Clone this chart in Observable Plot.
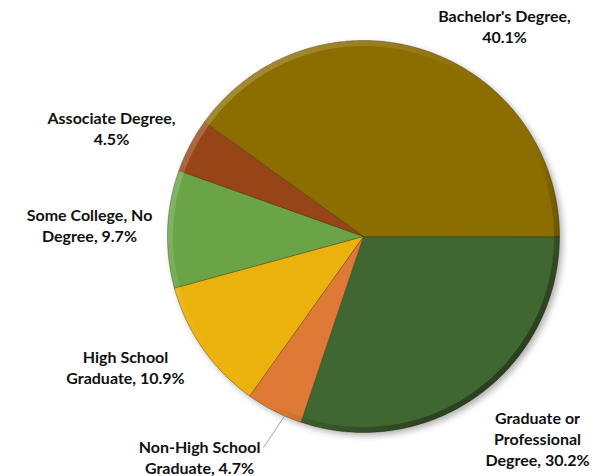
<!DOCTYPE html>
<html>
<head>
<meta charset="utf-8">
<script src="https://cdn.jsdelivr.net/npm/d3@7"></script>
<script src="https://cdn.jsdelivr.net/npm/@observablehq/plot@0.6"></script>
<style>
  html, body { margin: 0; padding: 0; background: #fff; }
  #chart { width: 602px; height: 476px; }
</style>
</head>
<body>
<div id="chart"></div>
<script>
// ---- data (clockwise from 3 o'clock) ----
const categories = [
  "Graduate or Professional Degree",
  "Non-High School Graduate",
  "High School Graduate",
  "Some College, No Degree",
  "Associate Degree",
  "Bachelor's Degree"
];
const values = [30.2, 4.7, 10.9, 9.7, 4.5, 40.1];
const labelLines = [
  ["Graduate or", "Professional", "Degree, 30.2%"],
  ["Non-High School", "Graduate, 4.7%"],
  ["High School", "Graduate, 10.9%"],
  ["Some College, No", "Degree, 9.7%"],
  ["Associate Degree,", "4.5%"],
  ["Bachelor's Degree,", "40.1%"]
];
const colors = ["#416630", "#DE7A35", "#EBB10A", "#6AA446", "#974414", "#8C6D00"];

// ---- layout ----
const W = 602, H = 476;
const cx = 363, cy = 236, R = 196;
// label centre (pixels) for each category, first line centre y
const labelPos = [
  [537, 418], [199, 447], [125, 357], [89, 215], [111, 118], [504, 16]
];
const lineGap = 21;

const toX = px => (px - cx) / R;
const toY = py => -(py - cy) / R;

const pie = d3.pie().sort(null).startAngle(Math.PI / 2).endAngle(Math.PI / 2 + 2 * Math.PI);
const arcs = pie(values);

// slice polygons in unit-circle coordinates
const slicePts = [];
arcs.forEach((a, i) => {
  slicePts.push({cat: categories[i], x: 0, y: 0});
  const n = Math.max(2, Math.ceil((a.endAngle - a.startAngle) / 0.01));
  for (let k = 0; k <= n; k++) {
    const t = a.startAngle + (a.endAngle - a.startAngle) * k / n;
    slicePts.push({cat: categories[i], x: Math.sin(t), y: Math.cos(t)});
  }
});

// bevel rim ring
const ringPts = [];
{
  const n = 400, ri = 0.972;
  for (let k = 0; k <= n; k++) { const t = 2 * Math.PI * k / n; ringPts.push({x: Math.sin(t), y: Math.cos(t)}); }
  for (let k = n; k >= 0; k--) { const t = 2 * Math.PI * k / n; ringPts.push({x: ri * Math.sin(t), y: ri * Math.cos(t)}); }
}

// labels
const labelRows = [];
labelLines.forEach((lines, i) => {
  lines.forEach((txt, j) => {
    labelRows.push({text: txt, x: toX(labelPos[i][0]), y: toY(labelPos[i][1] + j * lineGap)});
  });
});

// leader line for Non-High School
const nh = arcs[1];
const mid = (nh.startAngle + nh.endAngle) / 2 - 0.06;
const leader = [{x1: toX(263), y1: toY(447), x2: 0.99 * Math.sin(mid), y2: 0.99 * Math.cos(mid)}];

const chart = Plot.plot({
  width: W, height: H,
  margin: 0,
  x: {domain: [toX(0), toX(W)], axis: null},
  y: {domain: [toY(H), toY(0)], axis: null},
  color: {domain: categories, range: colors},
  style: {background: "#fff", fontFamily: "Lato, 'Open Sans', sans-serif"},
  marks: [
    Plot.line(slicePts, {x: "x", y: "y", z: "cat", fill: "cat", stroke: "rgba(40,30,0,0.45)", strokeWidth: 0.8, curve: "linear-closed", className: "slices"}),
    Plot.line(ringPts, {x: "x", y: "y", fill: "url(#rimGrad)", stroke: "none", curve: "linear-closed"}),
    Plot.link(leader, {x1: "x1", y1: "y1", x2: "x2", y2: "y2", stroke: "#a6a6a6", strokeWidth: 1}),
    Plot.text(labelRows, {x: "x", y: "y", text: "text", fontSize: 16, fontWeight: "bold", fill: "#111"})
  ]
});

// defs: bevel gradient and drop shadow
const svg = d3.select(chart);
const defs = svg.insert("defs", ":first-child");
const g = defs.append("linearGradient").attr("id", "rimGrad")
  .attr("x1", "0").attr("y1", "0").attr("x2", "1").attr("y2", "1");
g.append("stop").attr("offset", "0").attr("stop-color", "#fff").attr("stop-opacity", 0.3);
g.append("stop").attr("offset", "0.45").attr("stop-color", "#fff").attr("stop-opacity", 0.0);
g.append("stop").attr("offset", "0.6").attr("stop-color", "#000").attr("stop-opacity", 0.0);
g.append("stop").attr("offset", "1").attr("stop-color", "#000").attr("stop-opacity", 0.6);
const f = defs.append("filter").attr("id", "shadow").attr("x", "-10%").attr("y", "-10%").attr("width", "130%").attr("height", "130%");
f.append("feDropShadow").attr("dx", 3).attr("dy", 3).attr("stdDeviation", 3).attr("flood-color", "#000").attr("flood-opacity", 0.3);
svg.select("g.slices").attr("filter", "url(#shadow)");

document.getElementById("chart").appendChild(chart);
</script>
</body>
</html>
